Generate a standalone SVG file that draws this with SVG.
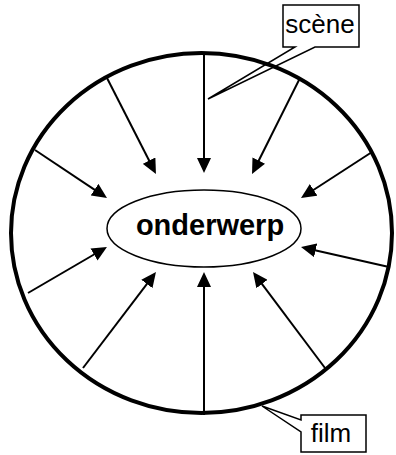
<svg xmlns="http://www.w3.org/2000/svg" width="396" height="455" viewBox="0 0 396 455">
<style>
  .frame { fill: none; stroke: #000; stroke-width: 4; }
  .subj { fill: none; stroke: #000; stroke-width: 1.5; }
  .arrow { stroke: #000; stroke-width: 2; fill: none; marker-end: url(#ah); }
  .callout { fill: none; stroke: #000; stroke-width: 1.5; stroke-linejoin: miter; }
  .lbl { font-family: "Liberation Sans", Arial, sans-serif; font-size: 26px; fill: #000; text-anchor: middle; }
  .main { font-family: "Liberation Sans", Arial, sans-serif; font-size: 29px; font-weight: bold; fill: #000; text-anchor: middle; }
</style>
<defs>
  <marker id="ah" markerUnits="userSpaceOnUse" markerWidth="15" markerHeight="14" refX="3" refY="7" orient="auto">
    <path d="M0,0 L15,7 L0,14 z" fill="#000"/>
  </marker>
</defs>
<rect width="396" height="455" fill="#fff"/>
<g id="frame">
  <ellipse class="frame" cx="201.5" cy="233" rx="190.5" ry="180"/>
</g>
<g id="connectors">
  <line class="arrow" x1="204" y1="53" x2="204" y2="161"/>
  <line class="arrow" x1="107" y1="78" x2="150.5" y2="163.3"/>
  <line class="arrow" x1="35" y1="150" x2="97" y2="191.3"/>
  <line class="arrow" x1="28" y1="293" x2="96.6" y2="253"/>
  <line class="arrow" x1="83" y1="368" x2="148.7" y2="281.6"/>
  <line class="arrow" x1="204" y1="415" x2="204" y2="284"/>
  <line class="arrow" x1="325" y1="368" x2="260.2" y2="281.6"/>
  <line class="arrow" x1="389" y1="267" x2="312.7" y2="249.7"/>
  <line class="arrow" x1="372" y1="152" x2="311.1" y2="191.5"/>
  <line class="arrow" x1="300" y1="78" x2="257.4" y2="163.3"/>
</g>
<g id="subject">
  <ellipse class="subj" cx="204" cy="228.5" rx="97" ry="38.5"/>
  <text class="main" x="210" y="235">onderwerp</text>
</g>
<g id="scene-label">
  <path class="callout" d="M295,47 L283,47 L283,5 L359,5 L359,47 L315,47 L208,99 Z"/>
  <text class="lbl" x="320" y="33">scène</text>
</g>
<g id="film-label">
  <path class="callout" d="M301,420 L301,415 L366,415 L366,452 L301,452 L301,432 L262,406 Z"/>
  <text class="lbl" x="331" y="442">film</text>
</g>
</svg>
